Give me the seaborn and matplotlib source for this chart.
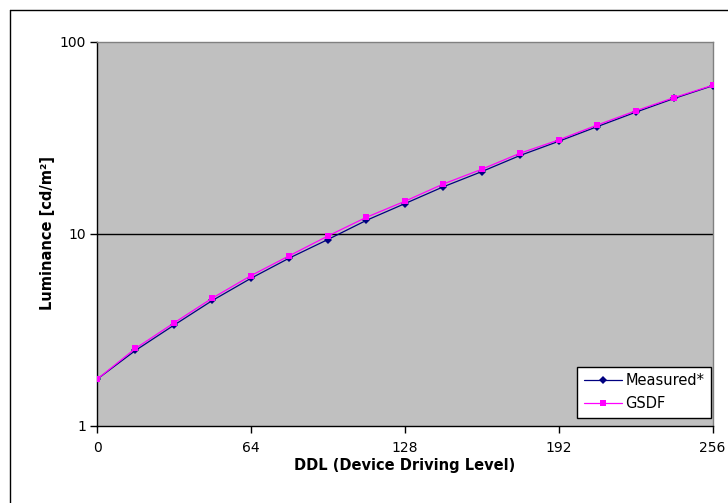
import matplotlib
matplotlib.use("Agg")
import matplotlib.pyplot as plt
from matplotlib.lines import Line2D
import seaborn as sns
import pandas as pd

ddl = [0, 16, 32, 48, 64, 80, 96, 112, 128, 144, 160, 176, 192, 208, 224, 240, 256]
measured = [1.74, 2.46, 3.33, 4.48, 5.84, 7.45, 9.30, 11.70, 14.30, 17.50, 21.00,
            25.50, 30.20, 36.00, 42.80, 50.50, 58.80]
gsdf = [1.74, 2.52, 3.42, 4.61, 6.03, 7.66, 9.70, 12.14, 14.71, 18.10, 21.60,
        26.20, 30.70, 36.70, 43.50, 51.00, 59.10]
series_names = ["Measured*", "GSDF"]
x_ticks = [0, 64, 128, 192, 256]
y_ticks = [1, 10, 100]
y_ticklabels = ["1", "10", "100"]

sns.set_style("white")
plt.rcParams["font.family"] = ["DejaVu Sans"]
plt.rcParams["text.color"] = "black"
plt.rcParams["axes.labelcolor"] = "black"
plt.rcParams["xtick.color"] = "black"
plt.rcParams["ytick.color"] = "black"

W, H = 728, 503
fig = plt.figure(figsize=(W / 100, H / 100), dpi=100)
fig.patch.set_facecolor("white")
ax = fig.add_axes([97 / W, 1 - 425.5 / H, (712.5 - 97) / W, (425.5 - 41.5) / H])
ax.set_facecolor("#C0C0C0")

df_m = pd.DataFrame({"DDL": ddl, "Luminance": measured})
df_g = pd.DataFrame({"DDL": ddl, "Luminance": gsdf})

sns.lineplot(data=df_m, x="DDL", y="Luminance", ax=ax, color="#000080",
             marker="D", markersize=3.8, markeredgewidth=0, linewidth=0.9,
             label=series_names[0], zorder=3)
sns.lineplot(data=df_g, x="DDL", y="Luminance", ax=ax, color="#FF00FF",
             marker="s", markersize=5, markeredgewidth=0, linewidth=0.9,
             label=series_names[1], zorder=4)

ax.set_yscale("log")
ax.set_xlim(0, 256)
ax.set_ylim(1, 100)
ax.set_xticks(x_ticks)
ax.set_xticklabels([str(t) for t in x_ticks])
ax.set_yticks(y_ticks)
ax.set_yticklabels(y_ticklabels)
ax.yaxis.set_minor_locator(matplotlib.ticker.NullLocator())

ax.grid(False)
ax.axhline(10, color="black", linewidth=1.0, zorder=1)

for side in ["left", "bottom"]:
    ax.spines[side].set_color("black")
    ax.spines[side].set_linewidth(1.0)
for side in ["top", "right"]:
    ax.spines[side].set_color("#808080")
    ax.spines[side].set_linewidth(1.0)
    ax.spines[side].set_visible(True)

ax.tick_params(axis="both", which="major", direction="out", length=5, width=1,
               color="black", labelcolor="black", labelsize=10, left=True, bottom=True)
ax.tick_params(axis="y", pad=3)
ax.tick_params(axis="x", pad=6)

ax.set_xlabel("DDL (Device Driving Level)", fontsize=10.5, fontweight="bold",
              labelpad=2, color="black")
ax.set_ylabel("Luminance [cd/m²]", fontsize=10.5, fontweight="bold",
              labelpad=3, color="black")

leg = ax.legend(loc="lower right", bbox_to_anchor=(0.9976, 0.0195), frameon=True,
                fancybox=False, fontsize=10.5, handlelength=2.6, borderpad=0.45,
                labelspacing=0.55, handletextpad=0.25, borderaxespad=0.0)
leg.get_frame().set_edgecolor("black")
leg.get_frame().set_facecolor("white")
leg.get_frame().set_linewidth(1.0)
leg.get_frame().set_alpha(1.0)
for t in leg.get_texts():
    t.set_color("black")

# outer chart frame (top and left edges visible)
fig.add_artist(Line2D([10 / W, 1.0], [1 - 10 / H, 1 - 10 / H], color="black",
                      linewidth=1.0, transform=fig.transFigure))
fig.add_artist(Line2D([10 / W, 10 / W], [0.0, 1 - 10 / H], color="black",
                      linewidth=1.0, transform=fig.transFigure))

fig.savefig("out.png", dpi=100, facecolor="white")
